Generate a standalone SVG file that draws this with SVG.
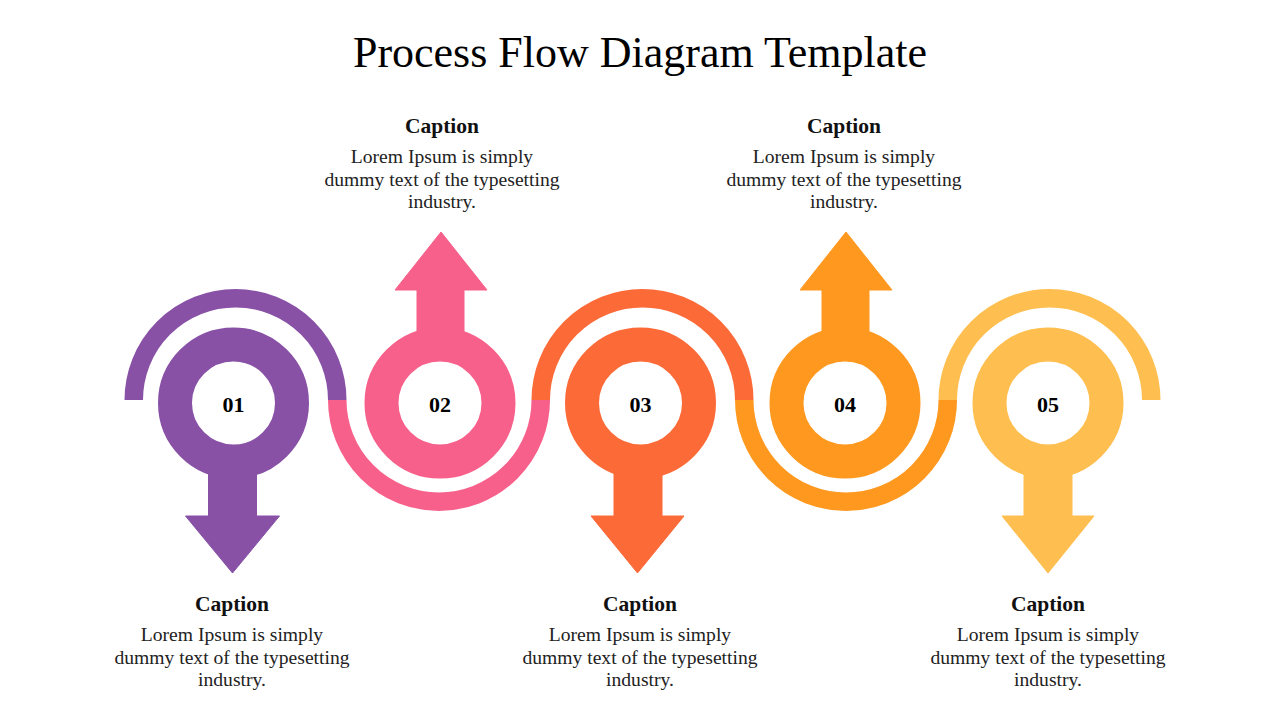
<svg xmlns="http://www.w3.org/2000/svg" width="1280" height="720" viewBox="0 0 1280 720">
<style>
.title{font-family:"Liberation Serif","Times New Roman",serif;font-size:44px;fill:#000;text-anchor:middle}
.cap{font-family:"Liberation Serif","Times New Roman",serif;font-size:21.5px;font-weight:bold;fill:#111;text-anchor:middle}
.body{font-family:"Liberation Serif","Times New Roman",serif;font-size:19.6px;fill:#222;text-anchor:middle}
.num{font-family:"Liberation Serif","Times New Roman",serif;font-size:22px;font-weight:bold;fill:#000;text-anchor:middle}
.ring{fill:none;stroke-width:34}
.arc{fill:none;stroke-width:18.5;stroke-linecap:butt}
.c1{fill:#8851A6;stroke:#8851A6}
.c2{fill:#F7608B;stroke:#F7608B}
.c3{fill:#FC6A38;stroke:#FC6A38}
.c4{fill:#FF981F;stroke:#FF981F}
.c5{fill:#FFBF50;stroke:#FFBF50}
</style>
<rect width="1280" height="720" fill="#fff"/>
<text class="title" x="640" y="67">Process Flow Diagram Template</text>

<g id="connectors">
<path class="arc c1" style="fill:none" d="M133.75,400 A101.75,101.75 0 0 1 337.25,400"/>
<path class="arc c2" style="fill:none" d="M337.25,400 A101.75,101.75 0 0 0 540.75,400"/>
<path class="arc c3" style="fill:none" d="M540.75,400 A101.75,101.75 0 0 1 744.25,400"/>
<path class="arc c4" style="fill:none" d="M744.25,400 A101.75,101.75 0 0 0 947.75,400"/>
<path class="arc c5" style="fill:none" d="M947.75,400 A101.75,101.75 0 0 1 1151.25,400"/>
</g>

<g id="node1">
<circle class="ring c1" style="fill:none" cx="233.5" cy="403" r="58.5"/>
<rect class="c1" x="208.5" y="455" width="48" height="62"/>
<polygon class="c1" points="185.5,516 279.5,516 232.5,573"/>
<text class="num" x="233.5" y="412">01</text>
<text class="cap" x="232" y="611">Caption</text>
<text class="body" x="232" y="641">Lorem Ipsum is simply</text>
<text class="body" x="232" y="664">dummy text of the typesetting</text>
<text class="body" x="232" y="686">industry.</text>
</g>

<g id="node2">
<circle class="ring c2" style="fill:none" cx="440" cy="403" r="58.5"/>
<rect class="c2" x="417" y="289" width="47" height="64"/>
<polygon class="c2" points="395,290 487,290 441,232"/>
<text class="num" x="440" y="412">02</text>
<text class="cap" x="442" y="133">Caption</text>
<text class="body" x="442" y="163">Lorem Ipsum is simply</text>
<text class="body" x="442" y="186">dummy text of the typesetting</text>
<text class="body" x="442" y="208">industry.</text>
</g>

<g id="node3">
<circle class="ring c3" style="fill:none" cx="640.5" cy="403" r="58.5"/>
<rect class="c3" x="614" y="455" width="48" height="62"/>
<polygon class="c3" points="591,516 684,516 637.5,573"/>
<text class="num" x="640.5" y="412">03</text>
<text class="cap" x="640" y="611">Caption</text>
<text class="body" x="640" y="641">Lorem Ipsum is simply</text>
<text class="body" x="640" y="664">dummy text of the typesetting</text>
<text class="body" x="640" y="686">industry.</text>
</g>

<g id="node4">
<circle class="ring c4" style="fill:none" cx="845" cy="403" r="58.5"/>
<rect class="c4" x="822" y="289" width="47" height="64"/>
<polygon class="c4" points="800,290 892,290 846,232"/>
<text class="num" x="845" y="412">04</text>
<text class="cap" x="844" y="133">Caption</text>
<text class="body" x="844" y="163">Lorem Ipsum is simply</text>
<text class="body" x="844" y="186">dummy text of the typesetting</text>
<text class="body" x="844" y="208">industry.</text>
</g>

<g id="node5">
<circle class="ring c5" style="fill:none" cx="1048" cy="403" r="58.5"/>
<rect class="c5" x="1024" y="455" width="48" height="62"/>
<polygon class="c5" points="1002,516 1094,516 1048,573"/>
<text class="num" x="1048" y="412">05</text>
<text class="cap" x="1048" y="611">Caption</text>
<text class="body" x="1048" y="641">Lorem Ipsum is simply</text>
<text class="body" x="1048" y="664">dummy text of the typesetting</text>
<text class="body" x="1048" y="686">industry.</text>
</g>
</svg>
